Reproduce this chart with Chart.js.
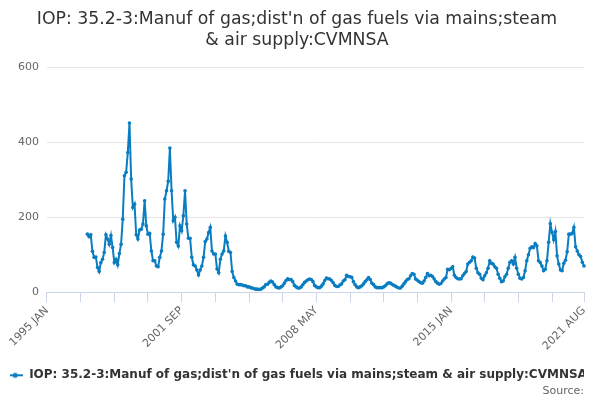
<!DOCTYPE html>
<html>
<head>
<meta charset="utf-8">
<script src="https://cdn.jsdelivr.net/npm/chart.js@4"></script>
<style>
  body { margin: 0; background: #fff; }
</style>
</head>
<body>
<canvas id="chart" width="600" height="400"></canvas>
<script>
var titleLines = ["IOP: 35.2-3:Manuf of gas;dist'n of gas fuels via mains;steam", '& air supply:CVMNSA'];
var seriesName = "IOP: 35.2-3:Manuf of gas;dist'n of gas fuels via mains;steam & air supply:CVMNSA";
var monthNames = ['JAN', 'FEB', 'MAR', 'APR', 'MAY', 'JUN', 'JUL', 'AUG', 'SEP', 'OCT', 'NOV', 'DEC'];
var firstYear = 1995;
var lastYear = 2021;
var lastMonth = 7; // AUG
var dataStartYear = 1997;
var yTicks = [0, 200, 400, 600];

// monthly values, 1997 JAN .. 2021 AUG
var values = [
  155, 148, 153, 109, 93, 94, 66, 55, 79, 88, 106, 153,      // 1997
  142, 128, 151, 119, 79, 88, 73, 103, 128, 195, 311, 320,   // 1998
  373, 452, 302, 226, 235, 153, 142, 166, 168, 182, 244, 177, // 1999
  155, 157, 110, 84, 84, 70, 68, 93, 110, 155, 249, 271,     // 2000
  296, 385, 271, 191, 200, 133, 123, 177, 164, 204, 271, 182, // 2001
  144, 144, 93, 73, 70, 59, 46, 59, 70, 93, 135, 142,        // 2002
  159, 173, 110, 102, 102, 62, 52, 88, 102, 110, 150, 133,   // 2003
  109, 106, 55, 39, 30, 21, 20, 20, 19, 17, 17, 14,          // 2004
  14, 12, 11, 9, 8, 8, 7, 8, 11, 14, 20, 21,                 // 2005
  26, 30, 27, 20, 14, 12, 11, 14, 17, 24, 31, 36,            // 2006
  33, 34, 28, 18, 14, 11, 11, 14, 20, 26, 30, 33,            // 2007
  35, 34, 28, 18, 14, 12, 12, 16, 22, 31, 38, 36,            // 2008
  35, 31, 25, 18, 15, 15, 19, 22, 30, 33, 45, 42,            // 2009
  41, 40, 28, 20, 14, 12, 14, 17, 22, 28, 33, 39,            // 2010
  34, 24, 20, 14, 12, 12, 12, 12, 14, 17, 22, 25,            // 2011
  24, 21, 18, 16, 13, 11, 11, 16, 22, 28, 34, 36,            // 2012
  44, 50, 48, 35, 32, 28, 25, 24, 30, 39, 50, 44,            // 2013
  45, 42, 35, 28, 24, 21, 23, 30, 35, 39, 61, 60,            // 2014
  63, 68, 45, 39, 36, 35, 36, 44, 50, 55, 75, 80,            // 2015
  84, 94, 91, 64, 52, 48, 37, 33, 44, 52, 64, 84,            // 2016
  77, 75, 68, 64, 48, 37, 28, 30, 41, 48, 64, 80,            // 2017
  84, 75, 93, 64, 48, 37, 35, 39, 57, 84, 100, 117,          // 2018
  121, 119, 130, 124, 84, 79, 70, 57, 61, 84, 133, 183,      // 2019
  160, 140, 162, 97, 75, 59, 57, 77, 85, 108, 155, 155,      // 2020
  157, 173, 121, 110, 100, 95, 80, 70                        // 2021
];

var labels = [];
for (var y = firstYear; y <= lastYear; y++) {
  for (var m = 0; m < 12; m++) {
    if (y === lastYear && m > lastMonth) break;
    labels.push(y + ' ' + monthNames[m]);
  }
}

// nothing before 1997
var data = [];
var gap = (dataStartYear - firstYear) * 12;
for (var i = 0; i < gap; i++) data.push(null);
data = data.concat(values);

var blue = '#0a7dc1';
var axisColor = '#ccd6eb';

// legend symbol: short line with a dot
var legendMark = document.createElement('canvas');
legendMark.width = 16;
legendMark.height = 8;
var lctx = legendMark.getContext('2d');
lctx.strokeStyle = blue;
lctx.lineWidth = 2;
lctx.beginPath();
lctx.moveTo(0, 4);
lctx.lineTo(16, 4);
lctx.stroke();
lctx.fillStyle = blue;
lctx.beginPath();
lctx.arc(8, 4, 2.5, 0, Math.PI * 2);
lctx.fill();

Chart.defaults.font.family = 'DejaVu Sans';

new Chart(document.getElementById('chart'), {
  type: 'line',
  data: {
    labels: labels,
    datasets: [{
      label: seriesName,
      data: data,
      borderColor: blue,
      backgroundColor: blue,
      borderWidth: 2,
      pointRadius: 1.8,
      pointBorderWidth: 0,
      pointBackgroundColor: blue,
      tension: 0
    }]
  },
  options: {
    responsive: false,
    animation: false,
    layout: { padding: { left: 10, right: 16, top: 6, bottom: 2.5 } },
    plugins: {
      title: {
        display: true,
        text: titleLines,
        color: '#333333',
        font: { size: 17.3, weight: 'normal', lineHeight: 1.2 },
        padding: { top: 3, bottom: 17 }
      },
      subtitle: {
        display: true,
        position: 'bottom',
        align: 'end',
        text: 'Source:',
        color: '#666666',
        font: { size: 11, weight: 'normal' },
        // pulled up so the legend sits close to it
        padding: { top: -7, bottom: 0 }
      },
      legend: {
        position: 'bottom',
        labels: {
          color: '#333333',
          font: { size: 12, weight: 'bold' },
          usePointStyle: true,
          pointStyle: legendMark,
          pointStyleWidth: 16,
          padding: 4
        }
      },
      tooltip: { enabled: false }
    },
    scales: {
      x: {
        afterFit: function(axis) {
          // extra room under the rotated labels
          axis.height += 10.5;
        },
        grid: {
          drawOnChartArea: false,
          drawTicks: true,
          tickLength: 10,
          color: axisColor
        },
        border: { color: axisColor },
        ticks: {
          autoSkip: false,
          minRotation: 45,
          maxRotation: 45,
          padding: 2,
          color: '#666666',
          font: { size: 11 },
          callback: function(value, index) {
            var last = labels.length - 1;
            if (index % 80 === 0 || index === last) return labels[index];
            if (index % 20 === 0) return '';
            return null;
          }
        }
      },
      y: {
        min: 0,
        max: 600,
        afterBuildTicks: function(axis) {
          axis.ticks = yTicks.map(function(v) { return { value: v }; });
        },
        grid: { color: '#e6e6e6', drawTicks: false },
        border: { display: false },
        ticks: {
          padding: 8,
          color: '#666666',
          font: { size: 11 }
        }
      }
    }
  }
});
</script>
</body>
</html>
